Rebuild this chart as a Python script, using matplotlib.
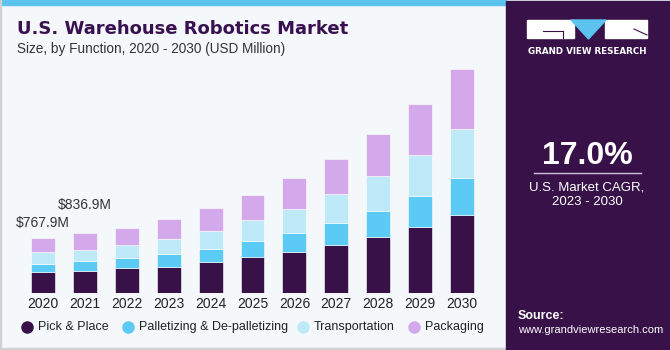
#!/usr/bin/env python3
import numpy as np
from matplotlib import pyplot as plt
from matplotlib.patches import Rectangle, Polygon
from matplotlib.colors import LinearSegmentedColormap

years = ['2020', '2021', '2022', '2023', '2024', '2025', '2026', '2027', '2028', '2029', '2030']
pick_place = [292, 310, 343, 366, 431, 495, 574, 671, 778, 917, 1084]
palletizing = [111, 135, 143, 181, 181, 222, 260, 306, 366, 431, 509]
transportation = [167, 157, 181, 200, 250, 292, 338, 393, 477, 574, 681]
packaging = [198, 235, 241, 282, 316, 353, 431, 500, 594, 701, 840]
series_names = ['Pick & Place', 'Palletizing & De-palletizing', 'Transportation', 'Packaging']
colors = ['#371148', '#5bcbf5', '#bde9f9', '#d4a9ec']
annotations = {0: '$767.9M', 1: '$836.9M'}

W, H = 670, 350
fig = plt.figure(figsize=(6.7, 3.5), dpi=100)
fig.patch.set_facecolor('#f4f8fb')

def fx(px):
    return px / W

def fy(py):
    return 1 - py / H

# top strip and border
fig.patches.append(Rectangle((0, fy(5)), fx(506), 5 / H, transform=fig.transFigure,
                             color='#5bc3ee', zorder=0))
fig.patches.append(Rectangle((0, 0), fx(1), 1, transform=fig.transFigure, color='#d0d0d0', zorder=0))
fig.patches.append(Rectangle((0, 0), fx(506), 2.5 / H, transform=fig.transFigure, color='#d0d0d0', zorder=0))

# bars
ax = fig.add_axes([fx(20), fy(293), fx(465), 233 / H])
ax.set_facecolor('none')
x = np.arange(len(years))
bottom = np.zeros(len(years))
for vals, c in zip([pick_place, palletizing, transportation, packaging], colors):
    ax.bar(x, vals, width=0.57, bottom=bottom, color=c, edgecolor='white', linewidth=0.4)
    bottom += np.array(vals)
# label offsets staggered so the two callouts don't collide
for (i, label), off in zip(annotations.items(), [110, 290]):
    ax.text(x[i], bottom[i] + off, label, ha='center', va='bottom',
            fontsize=10, color='#333333', family='Liberation Sans')
ax.set_xlim(-0.55, 10.55)
ax.set_ylim(0, 3240)
ax.set_yticks([])
ax.set_xticks(x)
ax.set_xticklabels(years, fontsize=10, color='#222222', family='Liberation Sans')
ax.tick_params(axis='x', length=0, pad=3)
for s in ax.spines.values():
    s.set_visible(False)

# titles
fig.text(fx(17), fy(29), 'U.S. Warehouse Robotics Market', fontsize=13, fontweight='heavy',
         color='#3a1150', family='DejaVu Sans', va='center')
fig.text(fx(17), fy(49), 'Size, by Function, 2020 - 2030 (USD Million)', fontsize=9.8,
         color='#333333', family='Liberation Sans', va='center')

# legend
leg_x = [27, 128, 303, 414]
for lx, name, c in zip(leg_x, series_names, colors):
    fig.lines.append(plt.Line2D([fx(lx)], [fy(327)], transform=fig.transFigure, marker='o',
                                markersize=8, color=c, linestyle='none'))
    fig.text(fx(lx + 11), fy(327), name, fontsize=9, color='#222222',
             family='Liberation Sans', va='center')

# right panel
panel = '#371148'
fig.patches.append(Rectangle((fx(506), 0), fx(670 - 506), fy(1), transform=fig.transFigure,
                             color=panel, zorder=1))
gax = fig.add_axes([fx(506), 0, fx(670 - 506), 68 / H])
grad = np.linspace(0, 1, 100)[:, None]
cmap = LinearSegmentedColormap.from_list('g', [panel, '#3e4a8a', '#3a8fcf'])
gax.imshow(grad, aspect='auto', cmap=cmap, extent=[0, 1, 0, 1], origin='upper')
for k in np.linspace(-1.5, 2.5, 18):
    gax.plot([0.5, k], [1.3, 0], color='white', alpha=0.12, lw=0.6)
for yy in [0.08, 0.2, 0.34, 0.5, 0.68]:
    gax.axhline(yy, color='white', alpha=0.12, lw=0.6)
gax.set_xlim(0, 1)
gax.set_ylim(0, 1)
gax.axis('off')

# logo
fig.patches.append(Rectangle((fx(527), fy(38)), fx(47), 18 / H, transform=fig.transFigure,
                             color='white', zorder=2))
fig.patches.append(Rectangle((fx(605), fy(38)), fx(42), 18 / H, transform=fig.transFigure,
                             color='white', zorder=2))
fig.patches.append(Polygon([(fx(571), fy(20)), (fx(606), fy(20)), (fx(588.5), fy(39))],
                           closed=True, transform=fig.transFigure, color='#5bc3ee', zorder=3))
fig.lines.append(plt.Line2D([fx(543), fx(563)], [fy(31), fy(31)], transform=fig.transFigure,
                            color=panel, lw=0.8, zorder=3))
fig.lines.append(plt.Line2D([fx(563), fx(563)], [fy(31), fy(38)], transform=fig.transFigure,
                            color=panel, lw=0.8, zorder=3))
fig.lines.append(plt.Line2D([fx(634), fx(647)], [fy(29), fy(35)], transform=fig.transFigure,
                            color=panel, lw=0.8, zorder=3))
fig.text(fx(587), fy(51), 'GRAND VIEW RESEARCH', fontsize=6.3, fontweight='bold',
         color='white', ha='center', va='center', family='DejaVu Sans', zorder=4)

fig.text(fx(587), fy(156), '17.0%', fontsize=23, fontweight='bold', color='white',
         ha='center', va='center', family='Liberation Sans', zorder=4)
fig.lines.append(plt.Line2D([fx(534), fx(641)], [fy(173), fy(173)], transform=fig.transFigure,
                            color='#cfc4d8', lw=1, zorder=4))
fig.text(fx(587), fy(187), 'U.S. Market CAGR,', fontsize=9.5, color='white',
         ha='center', va='center', family='Liberation Sans', zorder=4)
fig.text(fx(587), fy(202), '2023 - 2030', fontsize=9.5, color='white',
         ha='center', va='center', family='Liberation Sans', zorder=4)
fig.text(fx(518), fy(316), 'Source:', fontsize=9, fontweight='bold', color='white',
         va='center', family='Liberation Sans', zorder=4)
fig.text(fx(518), fy(330), 'www.grandviewresearch.com', fontsize=8, color='white',
         va='center', family='Liberation Sans', zorder=4)

fig.savefig('out.png', dpi=100, facecolor=fig.get_facecolor())
